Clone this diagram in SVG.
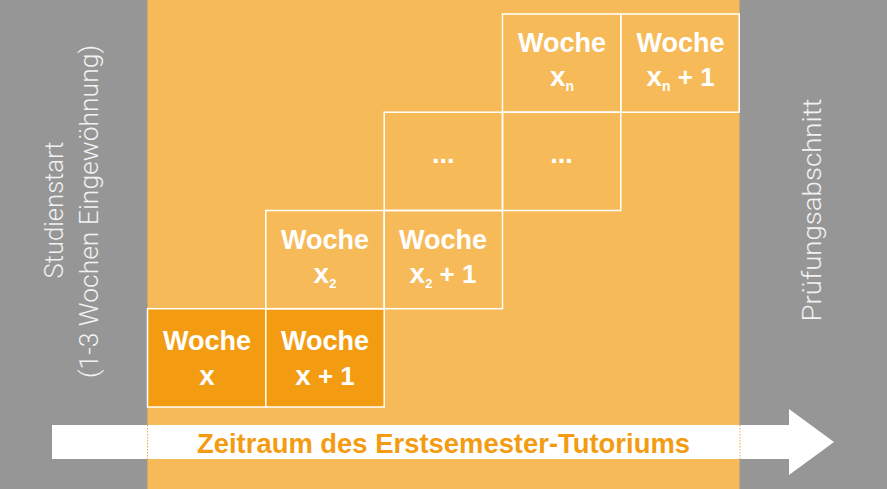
<svg xmlns="http://www.w3.org/2000/svg" width="887" height="489" viewBox="0 0 887 489">
<style>
.box{fill:none;stroke:#ffffff;stroke-width:1.5}
.dark{fill:#F39C12}
.w{font-family:"Liberation Sans",Arial,sans-serif;font-weight:bold;fill:#ffffff;text-anchor:middle;font-size:27px}
.xl{font-size:28px}
.pl{font-size:26px}
.sub{font-size:13px}
.side{font-family:Roboto,"Liberation Sans",Arial,sans-serif;font-weight:300;fill:#f2f2f2;text-anchor:middle;font-size:26px}
.tl{font-family:"Liberation Sans",Arial,sans-serif;font-weight:bold;fill:#F39C12;text-anchor:middle;font-size:28px}
</style>
<rect x="0" y="0" width="887" height="489" fill="#969696"/>
<rect x="147.5" y="0" width="592" height="489" fill="#F7BA58"/>
<g id="studienstart">
<text class="side" transform="translate(63,210) rotate(-90)" textLength="137" lengthAdjust="spacingAndGlyphs">Studienstart</text>
<text class="side" transform="translate(97.5,211.5) rotate(-90)" textLength="333" lengthAdjust="spacingAndGlyphs">(1-3 Wochen Eingewöhnung)</text>
</g>
<g id="pruefungsabschnitt">
<text class="side" transform="translate(821,210) rotate(-90)" textLength="223" lengthAdjust="spacingAndGlyphs">Prüfungsabschnitt</text>
</g>
<g id="woche-x">
<rect class="box dark" x="147.5" y="308.7" width="118.3" height="98.3"/>
<text class="w" x="207" y="350">Woche</text>
<text class="w" x="207" y="385"><tspan class="xl">x</tspan></text>
</g>
<g id="woche-x1">
<rect class="box dark" x="265.8" y="308.7" width="118.4" height="98.3"/>
<text class="w" x="325" y="350">Woche</text>
<text class="w" x="325" y="385"><tspan class="xl">x</tspan><tspan class="pl"> + 1</tspan></text>
</g>
<g id="woche-x2">
<rect class="box" x="265.8" y="210.5" width="118.4" height="98.2"/>
<text class="w" x="325" y="249.3">Woche</text>
<text class="w" x="325" y="283.3"><tspan class="xl">x</tspan><tspan class="sub" dy="5">2</tspan></text>
</g>
<g id="woche-x2-1">
<rect class="box" x="384.2" y="210.5" width="118.3" height="98.2"/>
<text class="w" x="443" y="249.3">Woche</text>
<text class="w" x="443" y="283.3"><tspan class="xl">x</tspan><tspan class="sub" dy="5">2</tspan><tspan class="pl" dy="-5"> + 1</tspan></text>
</g>
<g id="ellipsis-1">
<rect class="box" x="384.2" y="112.2" width="118.3" height="98.3"/>
<text class="w" x="443.3" y="163">...</text>
</g>
<g id="ellipsis-2">
<rect class="box" x="502.5" y="112.2" width="118.3" height="98.3"/>
<text class="w" x="561.5" y="163">...</text>
</g>
<g id="woche-xn">
<rect class="box" x="502.5" y="14" width="118.3" height="98.2"/>
<text class="w" x="562" y="52.3">Woche</text>
<text class="w" x="562" y="86"><tspan class="xl">x</tspan><tspan class="sub" style="font-size:14px" dy="5">n</tspan></text>
</g>
<g id="woche-xn-1">
<rect class="box" x="620.8" y="14" width="118.4" height="98.2"/>
<text class="w" x="680.5" y="52.3">Woche</text>
<text class="w" x="680.5" y="86"><tspan class="xl">x</tspan><tspan class="sub" style="font-size:14px" dy="5">n</tspan><tspan class="pl" dy="-5"> + 1</tspan></text>
</g>
<g id="connectors">
<polygon points="52,425 789,425 789,409 834,442 789,475 789,459 52,459" fill="#ffffff"/>
<line x1="147.5" y1="425" x2="147.5" y2="459" stroke="#F7A840" stroke-width="1" stroke-dasharray="1.5 1.5"/>
<line x1="740" y1="425" x2="740" y2="459" stroke="#F7A840" stroke-width="1" stroke-dasharray="1.5 1.5"/>
<text class="tl" x="443.5" y="452.7" textLength="493" lengthAdjust="spacingAndGlyphs">Zeitraum des Erstsemester-Tutoriums</text>
</g>
</svg>
